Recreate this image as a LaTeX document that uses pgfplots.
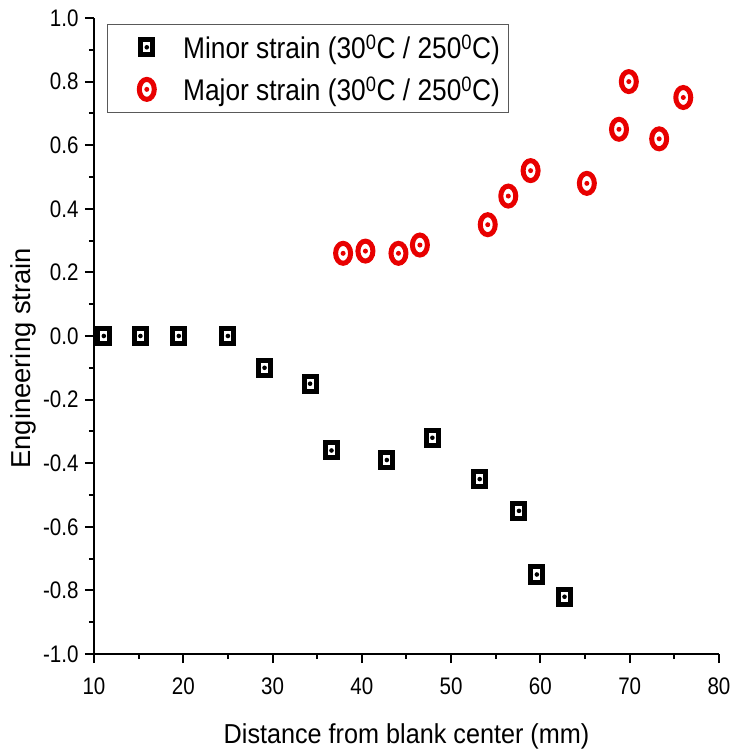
\documentclass[border=0pt]{standalone}
\usepackage{fontspec}
\setmainfont{Liberation Sans}
\newfontfamily\condensed{Liberation Sans}[FakeStretch=0.86]
\newfontfamily\legfont{Liberation Sans}[FakeStretch=0.88]
\newfontfamily\xlabfont{Liberation Sans}[FakeStretch=0.92]
\usepackage{pgfplots}
\pgfplotsset{compat=1.18}
\definecolor{mred}{RGB}{232,0,0}
\pgfdeclareplotmark{sqdot}{%
  \pgfsetlinewidth{5bp}\pgfsetmiterjoin
  \pgfpathrectangle{\pgfpoint{-6bp}{-7.5bp}}{\pgfpoint{12bp}{15bp}}\pgfusepathqstroke
  \pgfpathcircle{\pgfpointorigin}{2.3bp}\pgfusepathqfill}
\pgfdeclareplotmark{ringdot}{%
  \pgfsetlinewidth{5bp}
  \pgfpathellipse{\pgfpointorigin}{\pgfpoint{7.5bp}{0bp}}{\pgfpoint{0bp}{10bp}}\pgfusepathqstroke
  \pgfpathcircle{\pgfpointorigin}{2.5bp}\pgfusepathqfill}
\begin{document}
\begin{tikzpicture}
\useasboundingbox (-94bp,-100bp) rectangle (639bp,654bp);
\begin{axis}[
  at={(0,0)}, anchor=south west,
  scale only axis, width=625bp, height=636bp,
  xmin=10, xmax=80, ymin=-1, ymax=1,
  axis x line=bottom, axis y line=left,
  axis line style={-, line width=2bp},
  every tick/.style={black, line width=2bp},
  tick align=outside,
  major tick length=9bp, minor tick length=5bp,
  xtick={10,20,...,80}, minor xtick={15,25,...,75},
  ytick={-1,-0.8,...,1.01}, minor ytick={-0.9,-0.7,...,0.95},
  /pgf/number format/assume math mode=true,
  yticklabel style={/pgf/number format/fixed, /pgf/number format/fixed zerofill, /pgf/number format/precision=1, xshift=-3bp},
  xticklabel style={/pgf/number format/fixed, /pgf/number format/precision=0, yshift=-11bp},
  ticklabel style={font=\condensed\fontsize{24}{26}\selectfont},
  xlabel={Distance from blank center (mm)},
  ylabel={Engineering strain},
  xlabel style={font=\xlabfont\fontsize{27.5}{30}\selectfont, yshift=-22bp},
  ylabel style={font=\fontsize{27.5}{30}\selectfont, at={(ticklabel cs:0.465)}, yshift=0bp},
  clip=false,
  legend style={at={(rel axis cs:0.0208,0.99)}, anchor=north west,
    draw=black!65, line width=0.8bp, font=\legfont\fontsize{30}{34}\selectfont,
    inner xsep=6bp, inner ysep=8bp, row sep=13bp},
  legend cell align=left,
  legend image code/.code={\path (0bp,0bp) (67bp,0bp); \draw[#1] plot coordinates {(33bp,0bp)};},
]
\addplot[only marks, mark=sqdot, color=black] coordinates {
(11.1,0.0) (15.2,0.0) (19.5,0.0) (25.0,0.0) (29.1,-0.10) (34.2,-0.15)
(36.6,-0.36) (42.8,-0.39) (47.9,-0.32) (53.2,-0.45) (57.6,-0.55)
(59.6,-0.75) (62.7,-0.82)
};
\addlegendentry{Minor strain (30\textsuperscript{0}C / 250\textsuperscript{0}C)}
\addplot[only marks, mark=ringdot, color=mred] coordinates {
(37.9,0.26) (40.4,0.267) (44.1,0.26) (46.5,0.286) (54.1,0.35) (56.4,0.44)
(58.9,0.52) (65.2,0.48) (68.8,0.65) (69.9,0.80) (73.3,0.62) (76.0,0.75)
};
\addlegendentry{Major strain (30\textsuperscript{0}C / 250\textsuperscript{0}C)}
\end{axis}
\end{tikzpicture}
\end{document}
